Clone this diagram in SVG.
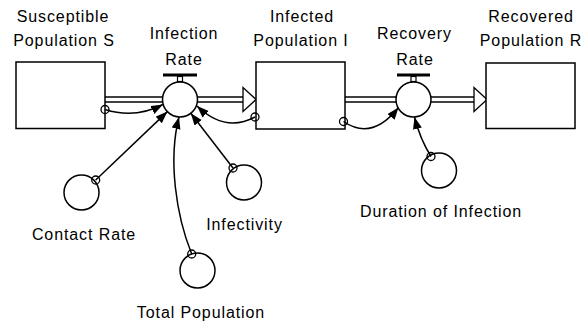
<svg xmlns="http://www.w3.org/2000/svg" width="585" height="326" viewBox="0 0 585 326">
  <style>
    text { font-family: "Liberation Sans", Arial, sans-serif; font-size: 16px; fill: #000; text-anchor: middle; letter-spacing: 0.9px; }
    .stock { fill: #fff; stroke: #000; stroke-width: 1.5; }
    .valve { fill: #fff; stroke: #000; stroke-width: 1.5; }
    .aux { fill: none; stroke: #000; stroke-width: 1.5; }
    .pipe { stroke: #000; stroke-width: 1.3; fill: none; }
    .flowhead { fill: #fff; stroke: #000; stroke-width: 1.3; }
    .link { fill: none; stroke: #000; stroke-width: 1.5; marker-end: url(#arrow); }
    .tail { fill: none; stroke: #000; stroke-width: 1.3; }
  </style>
  <defs>
    <marker id="arrow" markerUnits="userSpaceOnUse" markerWidth="13" markerHeight="10" refX="12" refY="4.5" orient="auto">
      <path d="M0,0 L12,4.5 L0,9 z" fill="#000"/>
    </marker>
  </defs>

  <!-- material flows (pipes and hollow heads) -->
  <g id="flows">
    <line class="pipe" x1="105" y1="97" x2="165" y2="97"/>
    <line class="pipe" x1="105" y1="102" x2="165" y2="102"/>
    <line class="pipe" x1="195" y1="97" x2="243" y2="97"/>
    <line class="pipe" x1="195" y1="102" x2="243" y2="102"/>
    <polygon class="flowhead" points="243,87.5 256,99.5 243,111.5"/>

    <line class="pipe" x1="345" y1="97" x2="398" y2="97"/>
    <line class="pipe" x1="345" y1="102" x2="398" y2="102"/>
    <line class="pipe" x1="429" y1="97" x2="474" y2="97"/>
    <line class="pipe" x1="429" y1="102" x2="474" y2="102"/>
    <polygon class="flowhead" points="474,87.5 487,99.5 474,111.5"/>
  </g>

  <!-- stocks -->
  <g id="stock-s">
    <rect class="stock" x="16" y="62" width="89" height="66.5"/>
    <text x="63" y="22">Susceptible</text>
    <text x="64" y="45.5">Population S</text>
  </g>
  <g id="stock-i">
    <rect class="stock" x="256" y="62" width="89" height="67"/>
    <text x="302" y="22">Infected</text>
    <text x="301" y="45.5">Population I</text>
  </g>
  <g id="stock-r">
    <rect class="stock" x="486" y="63" width="89" height="65.5"/>
    <text x="531" y="22">Recovered</text>
    <text x="531" y="45.5">Population R</text>
  </g>

  <!-- rate valves -->
  <g id="infection-rate">
    <rect x="163" y="73.5" width="34" height="3" fill="#000"/>
    <rect x="177.5" y="76.5" width="5" height="5" fill="#fff" stroke="#000" stroke-width="1.2"/>
    <circle class="valve" cx="180" cy="99.5" r="17.5"/>
    <text x="184" y="39">Infection</text>
    <text x="184" y="65">Rate</text>
  </g>
  <g id="recovery-rate">
    <rect x="397" y="73.5" width="33" height="3" fill="#000"/>
    <rect x="411" y="76.5" width="5" height="5" fill="#fff" stroke="#000" stroke-width="1.2"/>
    <circle class="valve" cx="413.5" cy="99.5" r="17.5"/>
    <text x="414.5" y="39">Recovery</text>
    <text x="415" y="65">Rate</text>
  </g>

  <!-- auxiliary variables -->
  <g id="contact-rate">
    <circle class="aux" cx="81.5" cy="192.5" r="17.5"/>
    <text x="84" y="240">Contact Rate</text>
  </g>
  <g id="infectivity">
    <circle class="aux" cx="244" cy="182.5" r="17.5"/>
    <text x="244.5" y="230">Infectivity</text>
  </g>
  <g id="total-population">
    <circle class="aux" cx="197.5" cy="270.5" r="17.5"/>
    <text x="201" y="318">Total Population</text>
  </g>
  <g id="duration-of-infection">
    <circle class="aux" cx="439" cy="170.5" r="17.5"/>
    <text x="441" y="217">Duration of Infection</text>
  </g>

  <!-- information links -->
  <g id="links">
    <path class="link" d="M105,109.5 Q135,119 163,104.5"/>
    <path class="link" d="M255,117 Q225,133 197,106"/>
    <path class="link" d="M95.7,180 L167.4,111.6"/>
    <path class="link" d="M191.7,254 C176,215 168,160 179,117"/>
    <path class="link" d="M233,168 L190.8,113.3"/>
    <path class="link" d="M343.5,121.5 Q372,141 398.5,107.5"/>
    <path class="link" d="M431,156.5 Q420,139 414.5,117"/>

    <circle class="tail" cx="105" cy="109.5" r="4"/>
    <circle class="tail" cx="255" cy="117" r="4"/>
    <circle class="tail" cx="343.5" cy="121.5" r="4"/>
    <circle class="tail" cx="95.7" cy="180" r="4"/>
    <circle class="tail" cx="233" cy="168" r="4"/>
    <circle class="tail" cx="191.7" cy="254" r="4"/>
    <circle class="tail" cx="431" cy="156.5" r="4"/>
  </g>
</svg>
